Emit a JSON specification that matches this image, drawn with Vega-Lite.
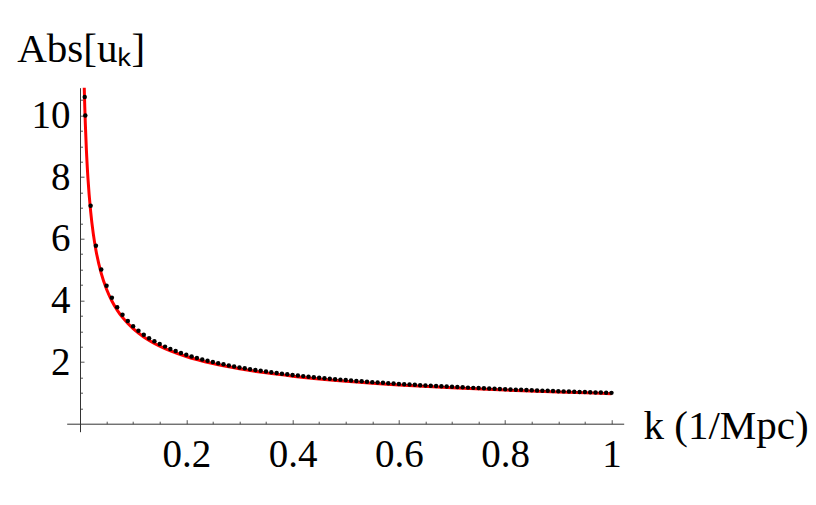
{
  "$schema": "https://vega.github.io/schema/vega-lite/v6.json",
  "autosize": {"type": "none"},
  "padding": {"left": 66.7, "top": 87.7, "right": 192.3, "bottom": 73.3},
  "width": 557,
  "height": 344,
  "background": "white",
  "config": {
    "view": {"stroke": null},
    "axis": {
      "labelFont": "Liberation Serif",
      "titleFont": "Liberation Serif",
      "labelFontSize": 39,
      "titleFontSize": 41,
      "labelColor": "black",
      "titleColor": "black",
      "titleFontWeight": "normal",
      "domainColor": "#333333",
      "tickColor": "#555555",
      "domainWidth": 1,
      "tickWidth": 1,
      "grid": false,
      "labelOverlap": false,
      "labelFlush": false
    }
  },
  "datasets": {
    "dots": [
      {"k": 0.0089, "u": 10.6},
      {"k": 0.01, "u": 10.0},
      {"k": 0.02, "u": 7.071},
      {"k": 0.03, "u": 5.774},
      {"k": 0.04, "u": 5.0},
      {"k": 0.05, "u": 4.472},
      {"k": 0.06, "u": 4.082},
      {"k": 0.07, "u": 3.78},
      {"k": 0.08, "u": 3.536},
      {"k": 0.09, "u": 3.333},
      {"k": 0.1, "u": 3.162},
      {"k": 0.11, "u": 3.015},
      {"k": 0.12, "u": 2.887},
      {"k": 0.13, "u": 2.774},
      {"k": 0.14, "u": 2.673},
      {"k": 0.15, "u": 2.582},
      {"k": 0.16, "u": 2.5},
      {"k": 0.17, "u": 2.425},
      {"k": 0.18, "u": 2.357},
      {"k": 0.19, "u": 2.294},
      {"k": 0.2, "u": 2.236},
      {"k": 0.21, "u": 2.182},
      {"k": 0.22, "u": 2.132},
      {"k": 0.23, "u": 2.085},
      {"k": 0.24, "u": 2.041},
      {"k": 0.25, "u": 2.0},
      {"k": 0.26, "u": 1.961},
      {"k": 0.27, "u": 1.925},
      {"k": 0.28, "u": 1.89},
      {"k": 0.29, "u": 1.857},
      {"k": 0.3, "u": 1.826},
      {"k": 0.31, "u": 1.796},
      {"k": 0.32, "u": 1.768},
      {"k": 0.33, "u": 1.741},
      {"k": 0.34, "u": 1.715},
      {"k": 0.35, "u": 1.69},
      {"k": 0.36, "u": 1.667},
      {"k": 0.37, "u": 1.644},
      {"k": 0.38, "u": 1.622},
      {"k": 0.39, "u": 1.601},
      {"k": 0.4, "u": 1.581},
      {"k": 0.41, "u": 1.562},
      {"k": 0.42, "u": 1.543},
      {"k": 0.43, "u": 1.525},
      {"k": 0.44, "u": 1.508},
      {"k": 0.45, "u": 1.491},
      {"k": 0.46, "u": 1.474},
      {"k": 0.47, "u": 1.459},
      {"k": 0.48, "u": 1.443},
      {"k": 0.49, "u": 1.429},
      {"k": 0.5, "u": 1.414},
      {"k": 0.51, "u": 1.4},
      {"k": 0.52, "u": 1.387},
      {"k": 0.53, "u": 1.374},
      {"k": 0.54, "u": 1.361},
      {"k": 0.55, "u": 1.348},
      {"k": 0.56, "u": 1.336},
      {"k": 0.57, "u": 1.325},
      {"k": 0.58, "u": 1.313},
      {"k": 0.59, "u": 1.302},
      {"k": 0.6, "u": 1.291},
      {"k": 0.61, "u": 1.28},
      {"k": 0.62, "u": 1.27},
      {"k": 0.63, "u": 1.26},
      {"k": 0.64, "u": 1.25},
      {"k": 0.65, "u": 1.24},
      {"k": 0.66, "u": 1.231},
      {"k": 0.67, "u": 1.222},
      {"k": 0.68, "u": 1.213},
      {"k": 0.69, "u": 1.204},
      {"k": 0.7, "u": 1.195},
      {"k": 0.71, "u": 1.187},
      {"k": 0.72, "u": 1.179},
      {"k": 0.73, "u": 1.17},
      {"k": 0.74, "u": 1.162},
      {"k": 0.75, "u": 1.155},
      {"k": 0.76, "u": 1.147},
      {"k": 0.77, "u": 1.14},
      {"k": 0.78, "u": 1.132},
      {"k": 0.79, "u": 1.125},
      {"k": 0.8, "u": 1.118},
      {"k": 0.81, "u": 1.111},
      {"k": 0.82, "u": 1.104},
      {"k": 0.83, "u": 1.098},
      {"k": 0.84, "u": 1.091},
      {"k": 0.85, "u": 1.085},
      {"k": 0.86, "u": 1.078},
      {"k": 0.87, "u": 1.072},
      {"k": 0.88, "u": 1.066},
      {"k": 0.89, "u": 1.06},
      {"k": 0.9, "u": 1.054},
      {"k": 0.91, "u": 1.048},
      {"k": 0.92, "u": 1.043},
      {"k": 0.93, "u": 1.037},
      {"k": 0.94, "u": 1.031},
      {"k": 0.95, "u": 1.026},
      {"k": 0.96, "u": 1.021},
      {"k": 0.97, "u": 1.015},
      {"k": 0.98, "u": 1.01},
      {"k": 0.99, "u": 1.005},
      {"k": 1.0, "u": 1.0}
    ],
    "curve": [
      {"k": 0.0078, "u": 11.04},
      {"k": 0.009, "u": 10.28},
      {"k": 0.01, "u": 9.75},
      {"k": 0.012, "u": 8.9},
      {"k": 0.015, "u": 7.96},
      {"k": 0.02, "u": 6.894},
      {"k": 0.025, "u": 6.166},
      {"k": 0.03, "u": 5.629},
      {"k": 0.04, "u": 4.875},
      {"k": 0.05, "u": 4.36},
      {"k": 0.06, "u": 3.98},
      {"k": 0.07, "u": 3.685},
      {"k": 0.08, "u": 3.447},
      {"k": 0.1, "u": 3.083},
      {"k": 0.12, "u": 2.815},
      {"k": 0.15, "u": 2.517},
      {"k": 0.2, "u": 2.18},
      {"k": 0.25, "u": 1.95},
      {"k": 0.3, "u": 1.78},
      {"k": 0.35, "u": 1.648},
      {"k": 0.4, "u": 1.542},
      {"k": 0.5, "u": 1.379},
      {"k": 0.6, "u": 1.259},
      {"k": 0.7, "u": 1.165},
      {"k": 0.8, "u": 1.09},
      {"k": 0.9, "u": 1.028},
      {"k": 1.0, "u": 0.975}
    ]
  },
  "encoding": {
    "x": {
      "field": "k",
      "type": "quantitative",
      "scale": {"domain": [-0.025, 1.023], "nice": false, "zero": false},
      "axis": {
        "offset": -8,
        "values": [0.05, 0.1, 0.15, 0.2, 0.25, 0.3, 0.35, 0.4, 0.45, 0.5, 0.55, 0.6, 0.65, 0.7, 0.75, 0.8, 0.85, 0.9, 0.95, 1.0],
        "labelExpr": "round(datum.value*100) % 20 === 0 ? (datum.value === 1 ? '1' : format(datum.value, '.1f')) : ''",
        "tickSize": {"condition": {"test": "round(datum.value*100) % 20 === 0", "value": -4}, "value": -2.5},
        "labelPadding": 16,
        "labelBaseline": "top",
        "title": "k (1/Mpc)",
        "titleAlign": "left",
        "titleBaseline": "alphabetic",
        "titleAnchor": "start",
        "titleX": 576.3,
        "titleY": 14.3
      }
    },
    "y": {
      "field": "u",
      "type": "quantitative",
      "scale": {"domain": [-0.26, 10.9], "nice": false, "zero": false},
      "axis": {
        "offset": -13.3,
        "values": [0.5, 1, 1.5, 2, 2.5, 3, 3.5, 4, 4.5, 5, 5.5, 6, 6.5, 7, 7.5, 8, 8.5, 9, 9.5, 10, 10.5],
        "labelExpr": "datum.value % 2 === 0 ? '' + datum.value : ''",
        "tickSize": {"condition": {"test": "datum.value % 2 === 0", "value": -4}, "value": -2.5},
        "labelPadding": 14,
        "title": "Abs[uₖ]",
        "titleAngle": 0,
        "titleAlign": "left",
        "titleBaseline": "alphabetic",
        "titleAnchor": "start",
        "titleX": -63.3,
        "titleY": -25.7
      }
    }
  },
  "layer": [
    {
      "data": {"name": "curve"},
      "mark": {"type": "line", "color": "#ff0000", "strokeWidth": 3, "interpolate": "monotone", "clip": true}
    },
    {
      "data": {"name": "dots"},
      "mark": {"type": "circle", "color": "black", "opacity": 1, "size": 20, "clip": true}
    }
  ]
}
